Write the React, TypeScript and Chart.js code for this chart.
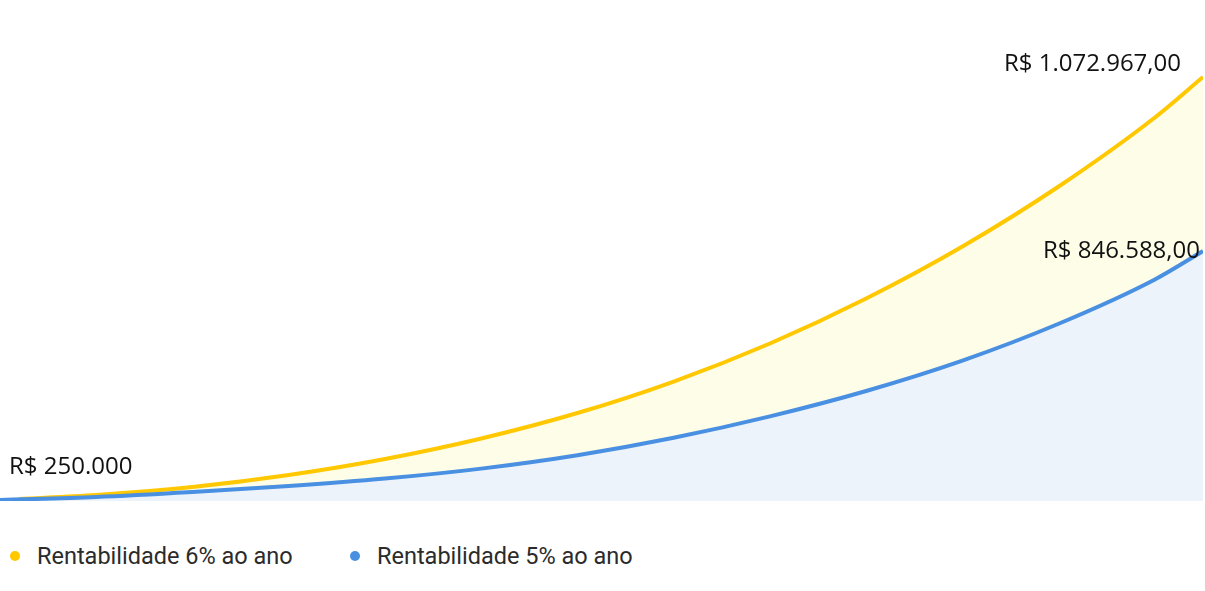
import { useEffect, useRef } from 'react';
import { Chart, registerables } from 'chart.js';

Chart.register(...registerables);

// years on the x axis (yellow line starts a bit later than the blue one)
const yellowYears = [0.4, 2, 4, 6, 8, 10, 12, 14, 16, 18, 20, 22, 24, 25];
const blueYears = [0, 2, 4, 6, 8, 10, 12, 14, 16, 18, 20, 22, 24, 25];

// values in R$
const yellowValues = [
  250000, 257800, 273400, 296800, 328000, 368000, 417700, 479100, 553300, 641000, 742400, 859400, 994000, 1072967,
];
const blueValues = [
  250000, 257200, 269100, 283400, 301300, 325200, 357400, 399200, 450500, 511300, 584100, 672400, 778600, 846588,
];

const legendLabels = ['Rentabilidade 6% ao ano', 'Rentabilidade 5% ao ano'];
const startLabel = 'R$ 250.000';
const yellowEndLabel = 'R$ 1.072.967,00';
const blueEndLabel = 'R$ 846.588,00';

const YELLOW = '#FFC800';
const BLUE = '#4A90E2';
const YELLOW_FILL = '#FEFDE8';
const BLUE_FILL = '#EDF3FB';

const valueLabels = {
  id: 'valueLabels',
  afterDatasetsDraw(chart: Chart) {
    const ctx = chart.ctx;
    const yPts = chart.getDatasetMeta(0).data;
    const bPts = chart.getDatasetMeta(1).data;
    const yEnd = yPts[yPts.length - 1];
    const bEnd = bPts[bPts.length - 1];
    const bStart = bPts[0];
    ctx.save();
    ctx.font = '24px "Open Sans"';
    ctx.fillStyle = '#111';
    ctx.textBaseline = 'alphabetic';
    ctx.textAlign = 'right';
    ctx.fillText(yellowEndLabel, yEnd.x - 22, yEnd.y - 6);
    ctx.fillText(blueEndLabel, bEnd.x - 3, bEnd.y + 7);
    ctx.textAlign = 'left';
    ctx.fillText(startLabel, bStart.x + 9, bStart.y - 26);
    ctx.restore();
  },
};

export default function App() {
  const canvasRef = useRef<HTMLCanvasElement>(null);
  const chartRef = useRef<Chart | null>(null);

  useEffect(() => {
    if (!canvasRef.current) return;
    if (chartRef.current) chartRef.current.destroy();

    chartRef.current = new Chart(canvasRef.current, {
      type: 'line',
      data: {
        datasets: [
          {
            label: legendLabels[0],
            data: yellowYears.map((x, i) => ({ x, y: yellowValues[i] })),
            borderColor: YELLOW,
            backgroundColor: YELLOW_FILL,
            fill: 'start',
            borderWidth: 4,
            cubicInterpolationMode: 'monotone',
            pointRadius: 0,
            yAxisID: 'y',
            order: 2,
          },
          {
            label: legendLabels[1],
            data: blueYears.map((x, i) => ({ x, y: blueValues[i] })),
            borderColor: BLUE,
            backgroundColor: BLUE_FILL,
            fill: 'start',
            borderWidth: 4,
            cubicInterpolationMode: 'monotone',
            pointRadius: 0,
            yAxisID: 'y1',
            order: 1,
          },
        ],
      },
      options: {
        responsive: true,
        maintainAspectRatio: false,
        animation: false,
        layout: { padding: { top: 40, bottom: 9, left: 0, right: 2 } },
        plugins: {
          legend: { display: false },
          tooltip: { enabled: false },
        },
        scales: {
          x: { type: 'linear', min: 0, max: 25, display: false },
          y: { min: 246100, max: 1145100, display: false },
          y1: { min: 247600, max: 1352500, display: false },
        },
      },
      plugins: [valueLabels],
    });

    return () => {
      chartRef.current?.destroy();
      chartRef.current = null;
    };
  }, []);

  const legendColors = [YELLOW, BLUE];
  const legendLeft = [10, 350];

  return (
    <div style={{ position: 'fixed', left: 0, top: 0, width: 1205, height: 591, background: '#fff' }}>
      <div style={{ position: 'absolute', left: 0, top: 0, width: 1205, height: 510 }}>
        <canvas ref={canvasRef} />
      </div>
      {legendLabels.map((label, i) => (
        <div
          key={label}
          style={{
            position: 'absolute',
            left: legendLeft[i],
            top: 542,
            height: 28,
            display: 'flex',
            alignItems: 'center',
            fontFamily: 'Roboto',
            fontSize: 23.5,
            color: '#2b2b2b',
          }}
        >
          <span
            style={{
              width: 10,
              height: 10,
              borderRadius: '50%',
              background: legendColors[i],
              marginRight: 17,
              display: 'inline-block',
              flexShrink: 0,
            }}
          />
          {label}
        </div>
      ))}
    </div>
  );
}
